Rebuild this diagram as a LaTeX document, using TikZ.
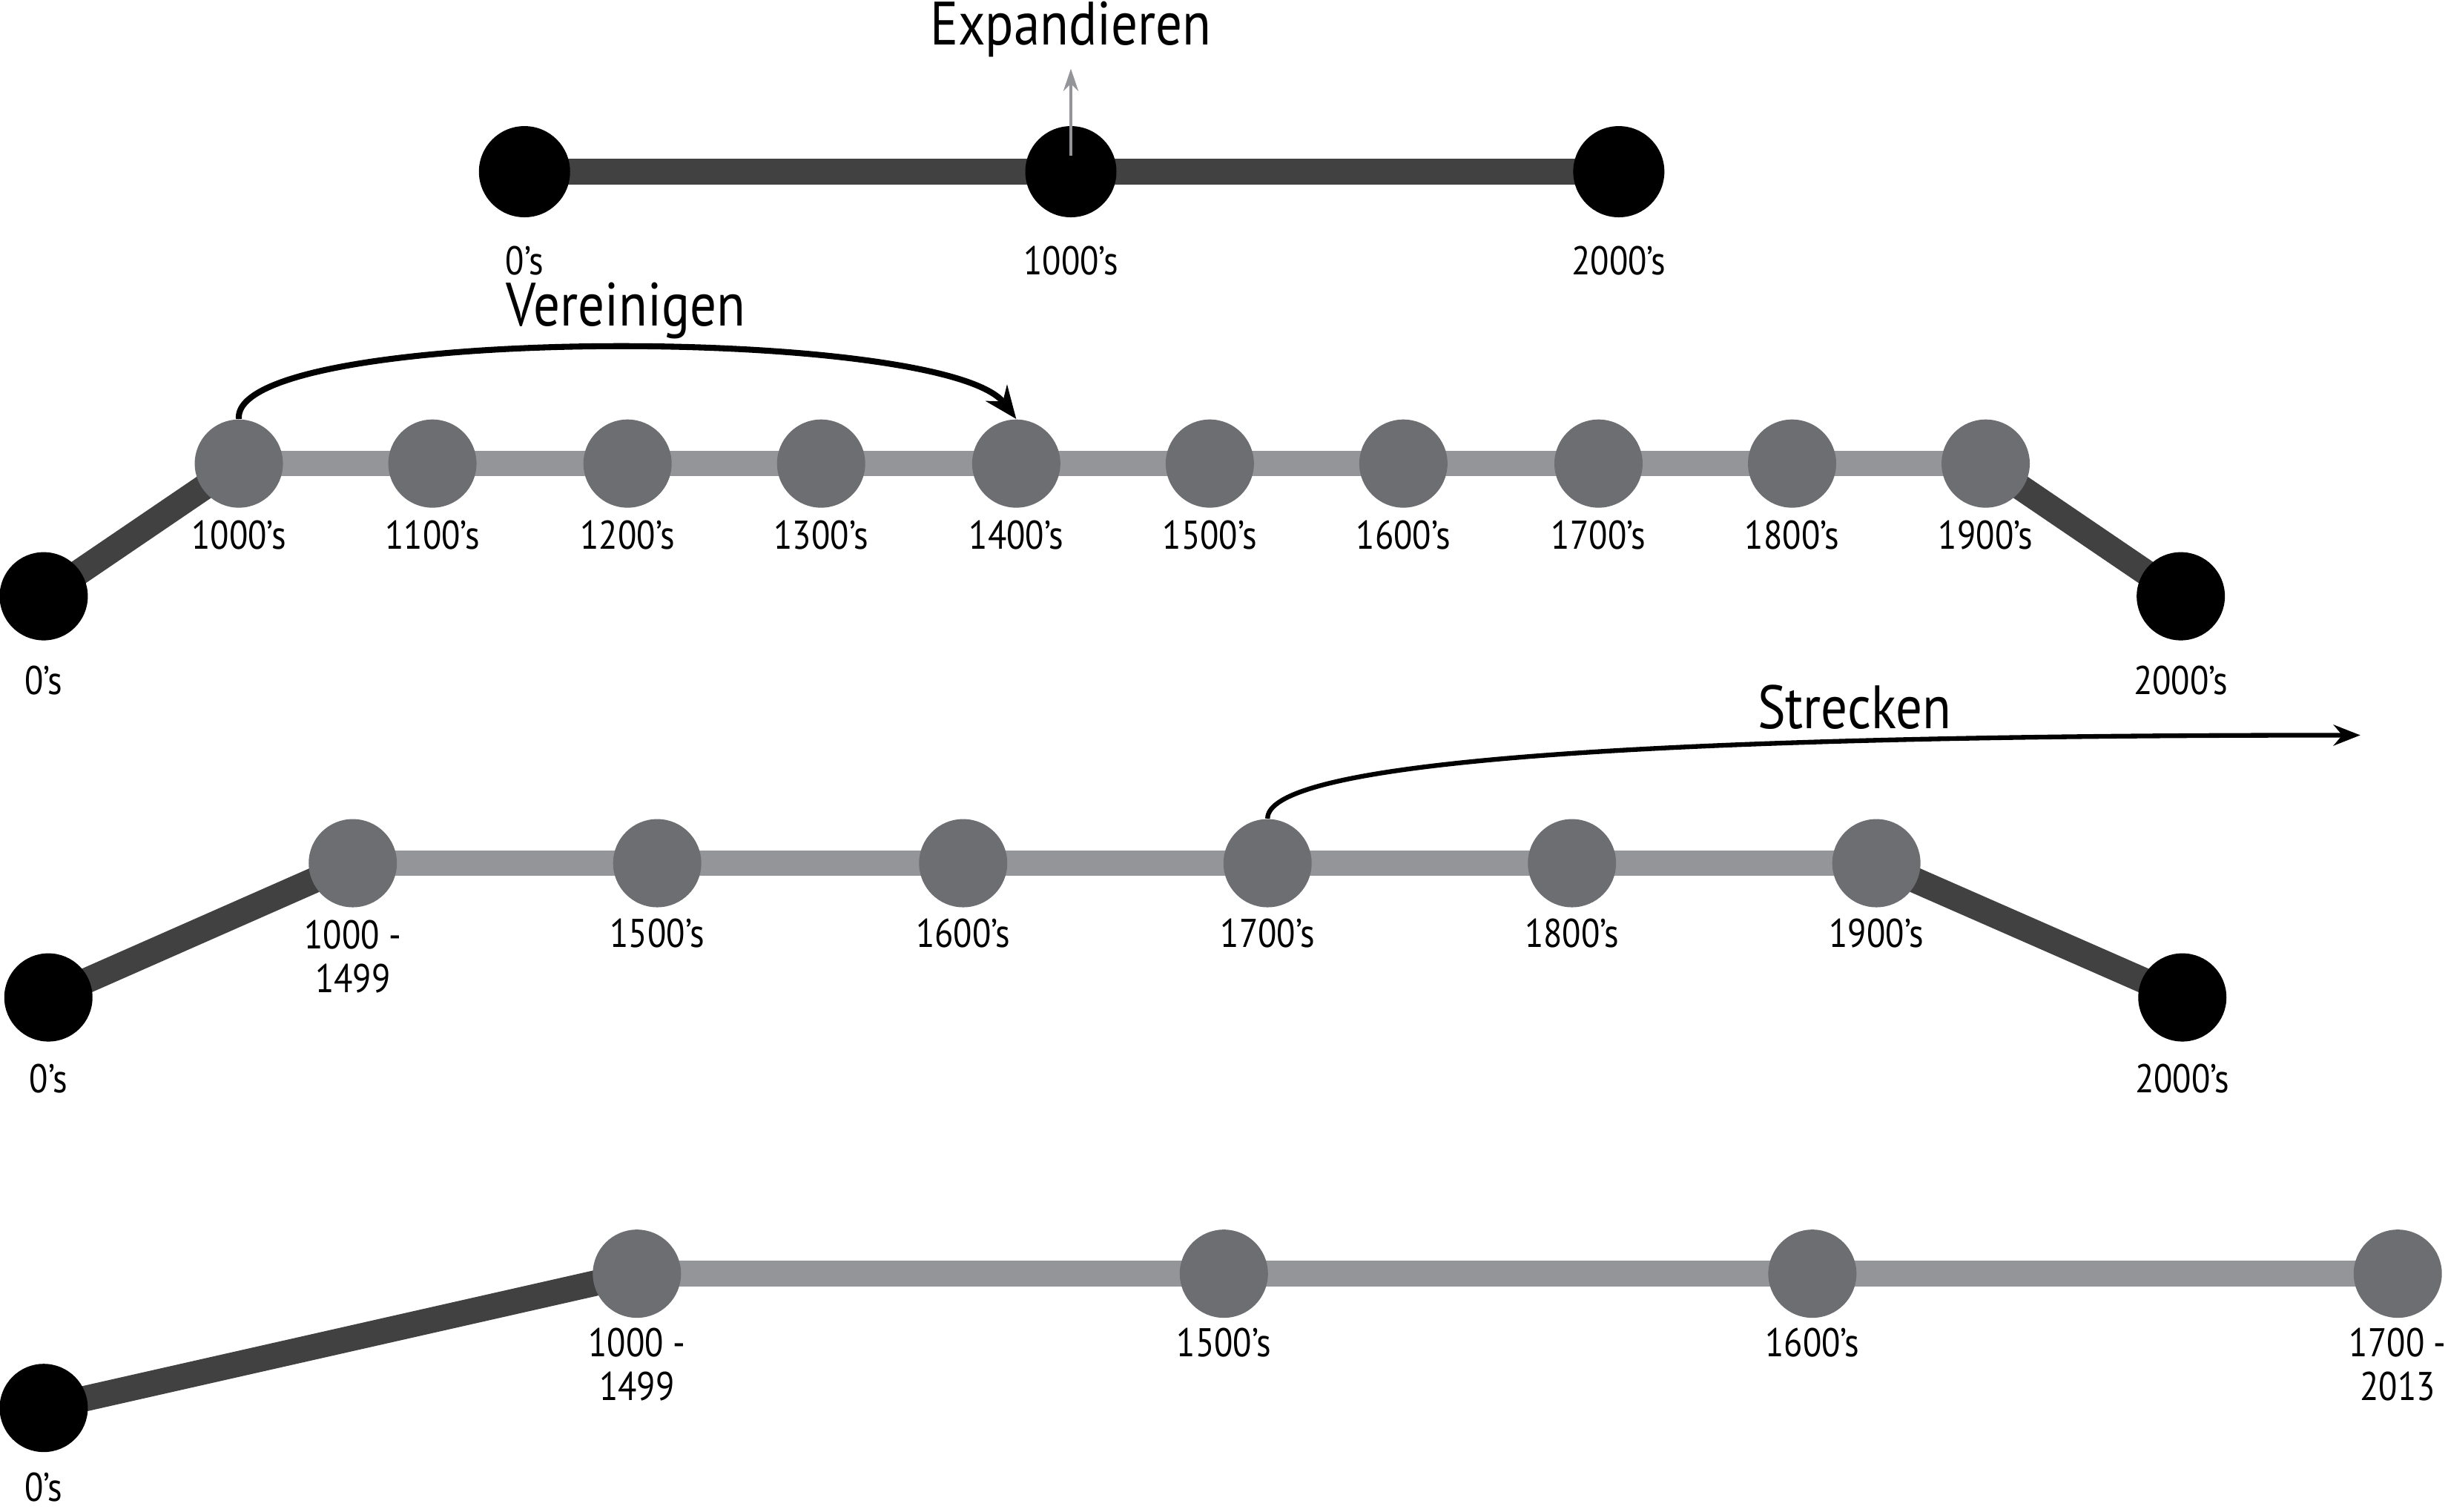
\documentclass[tikz,border=0pt]{standalone}
\usepackage{fontspec}
\setmainfont[FakeStretch=0.86]{PT Sans}
\usetikzlibrary{arrows.meta,backgrounds}
\definecolor{darkline}{HTML}{414141}
\definecolor{lightline}{HTML}{939598}
\definecolor{dotgray}{HTML}{6D6E71}
\definecolor{arrgray}{HTML}{939598}
\tikzset{
  blackdot/.style={circle,fill=black,inner sep=0pt,minimum size=1.23cm},
  graydot/.style={circle,fill=dotgray,inner sep=0pt,minimum size=1.19cm},
  enddot/.style={circle,fill=black,inner sep=0pt,minimum size=1.19cm},
  lbl/.style={inner sep=0pt,align=center,font=\fontsize{15.4}{16.8}\selectfont},
  ttl/.style={inner sep=0pt,font=\fontsize{23.5}{26}\selectfont},
  darkbar/.style={draw=darkline,line width=0.345cm},
  lightbar/.style={draw=lightline,line width=0.345cm},
  bigarrow/.style={draw=black,line width=2.3pt,-{Stealth[length=0.44cm,width=0.36cm]}},
  thinarrow/.style={draw=black,line width=1.8pt,-{Stealth[length=0.36cm,width=0.28cm]}},
  grayarrow/.style={draw=arrgray,line width=1.3pt,-{Stealth[length=0.3cm,width=0.2cm]}}
}
\begin{document}
\begin{tikzpicture}[x=0.02105cm,y=-0.02105cm]
\useasboundingbox (0,0) rectangle (1568.2,968.2);

% ---------- Row 1: Expandieren ----------
\node[blackdot] (a0) at (336,110) {};
\node[blackdot] (a1) at (686,110) {};
\node[blackdot] (a2) at (1037,110) {};
\node[lbl] (la0) at (336,167) {0’s};
\node[lbl] (la1) at (686,167) {1000’s};
\node[lbl] (la2) at (1037,167) {2000’s};
\node[ttl] (texp) at (686,19) {Expandieren};
\coordinate (ea) at (686,100);
\coordinate (eb) at (686,44);
\draw[grayarrow] (ea) -- (eb);
\begin{scope}[on background layer]
\draw[darkbar] (a0.center) -- (a1.center) -- (a2.center);
\end{scope}

% ---------- Row 2: Vereinigen ----------
\node[enddot] (b0) at (28,382) {};
\node[enddot] (b11) at (1397,382) {};
\foreach \i/\x/\t in {1/153/1000,2/277/1100,3/402/1200,4/526/1300,5/651/1400,6/775/1500,7/899/1600,8/1024/1700,9/1148/1800,10/1272/1900}{
  \node[graydot] (b\i) at (\x,297) {};
  \node[lbl] (lb\i) at (\x,343) {\t’s};
}
\node[lbl] (lb0) at (28,436) {0’s};
\node[lbl] (lb11) at (1397,436) {2000’s};
\node[ttl] (tver) at (401,199) {Vereinigen};
\begin{scope}[on background layer]
\draw[darkbar] (b0.center) -- (b1.center);
\draw[darkbar] (b10.center) -- (b11.center);
\draw[lightbar] (b1.center) -- (b10.center);
\end{scope}
\draw[bigarrow] (b1.north) .. controls (148,208) and (605,208) .. (b5.north);

% ---------- Row 3: Strecken ----------
\node[enddot] (c0) at (31,639) {};
\node[enddot] (c7) at (1398,639) {};
\foreach \i/\x in {1/226,2/421,3/617,4/812,5/1007,6/1202}{
  \node[graydot] (c\i) at (\x,553) {};
}
\node[lbl] (lc1) at (226,613) {1000 -\\1499};
\node[lbl] (lc2) at (421,598) {1500’s};
\node[lbl] (lc3) at (617,598) {1600’s};
\node[lbl] (lc4) at (812,598) {1700’s};
\node[lbl] (lc5) at (1007,598) {1800’s};
\node[lbl] (lc6) at (1202,598) {1900’s};
\node[lbl] (lc0) at (31,691) {0’s};
\node[lbl] (lc7) at (1398,691) {2000’s};
\node[ttl] (tstr) at (1188,453) {Strecken};
\begin{scope}[on background layer]
\draw[darkbar] (c0.center) -- (c1.center);
\draw[darkbar] (c6.center) -- (c7.center);
\draw[lightbar] (c1.center) -- (c6.center);
\end{scope}
\coordinate (send) at (1512,471);
\draw[thinarrow] (c4.north) .. controls (812,492) and (1000,471) .. (send);

% ---------- Row 4 ----------
\node[enddot] (d0) at (28,902) {};
\foreach \i/\x in {1/408,2/784,3/1161,4/1536}{
  \node[graydot] (d\i) at (\x,816) {};
}
\node[lbl] (ld0) at (28,953) {0’s};
\node[lbl] (ld1) at (408,874) {1000 -\\1499};
\node[lbl] (ld2) at (784,860) {1500’s};
\node[lbl] (ld3) at (1161,860) {1600’s};
\node[lbl] (ld4) at (1536,874) {1700 -\\2013};
\begin{scope}[on background layer]
\draw[darkbar] (d0.center) -- (d1.center);
\draw[lightbar] (d1.center) -- (d4.center);
\end{scope}
\end{tikzpicture}
\end{document}
